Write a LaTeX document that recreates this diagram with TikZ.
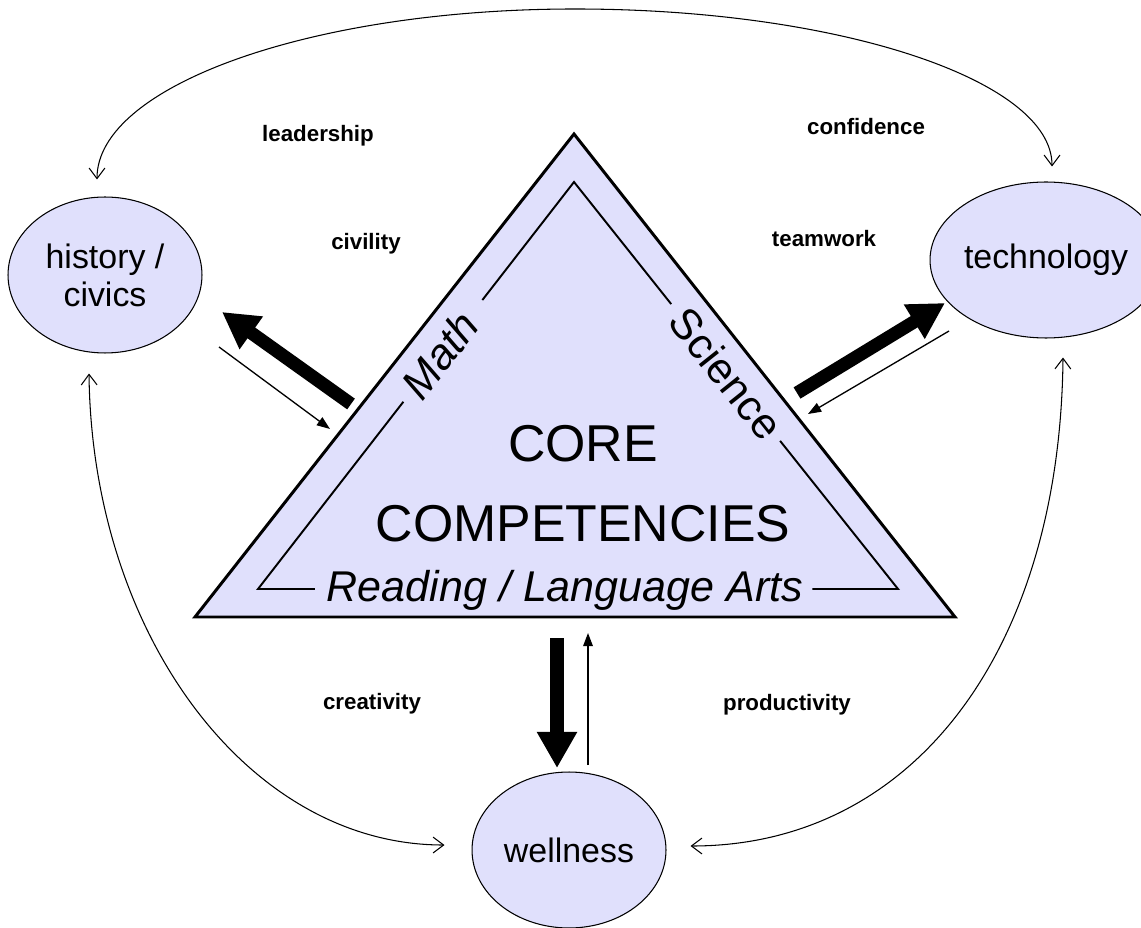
\documentclass[tikz,border=0pt]{standalone}
\usepackage{fontspec}
\setmainfont{Liberation Sans}
\usetikzlibrary{shapes.geometric,arrows.meta,calc}
\definecolor{lav}{RGB}{224,224,252}

\begin{document}
\begin{tikzpicture}[x=0.02cm,y=-0.02cm,line join=miter,
	topic/.style={ellipse, draw, line width=0.6pt, fill=lav, minimum width=3.88cm, minimum height=3.12cm, inner sep=0pt, align=center, font=\fontsize{19.3pt}{21.5pt}\selectfont},
	value/.style={font=\fontsize{12.7pt}{15pt}\selectfont\bfseries},
	subject/.style={inner sep=0pt, font=\fontsize{24.5pt}{28pt}\selectfont},
	push/.style={line width=7.5pt, -{Triangle[width=21.5pt,length=20.5pt]}},
	pull/.style={line width=0.75pt, -{Triangle[width=5.5pt,length=7.5pt]}},
	loopline/.style={line width=0.6pt, {Straight Barb[length=6pt,width=9pt]}-{Straight Barb[length=6pt,width=9pt]}}]
	\fill[white] (0,0) rectangle (1141,928);
	\useasboundingbox (0,0) rectangle (1141,928);

	\coordinate (oT) at (574,134);
	\coordinate (oL) at (195,617);
	\coordinate (oR) at (955,617);
	\coordinate (iT) at (574,182);
	\coordinate (iL) at (258,589);
	\coordinate (iR) at (898,589);
	\draw[line width=1.7pt, fill=lav] (oT) -- (oL) -- (oR) -- cycle;
	\draw[line width=1.1pt] ($(iL)!0.46!(iT)$) -- (iL) -- ($(iL)!0.089!(iR)$);
	\draw[line width=1.1pt] ($(iL)!0.71!(iT)$) -- (iT) -- ($(iT)!0.30!(iR)$);
	\draw[line width=1.1pt] ($(iT)!0.636!(iR)$) -- (iR) -- ($(iL)!0.866!(iR)$);

	\node (math) at ($(iL)!0.575!(iT)$)	[subject, rotate=52]	{\itshape Math};
	\node (sci)  at ($(iT)!0.47!(iR)$)	[subject, rotate=-51.5]	{Science};
	\node (read) at (565,601)	[subject, anchor=base]	{\itshape Reading / Language Arts};
	\node (core) at (583,484)	[inner sep=0pt, font=\fontsize{29.5pt}{45.4pt}\selectfont, align=center]	{CORE\\COMPETENCIES};

	\node (hist) at (105,275)	[topic]	{history /\\civics};
	\node (tech) at (1046,260)	[topic]	{technology};
	\node (well) at (569,850)	[topic]	{wellness};

	\node (lead) at (318,136)	[value]	{leadership};
	\node (conf) at (866,127)	[value]	{confidence};
	\node (civ)  at (366,244)	[value]	{civility};
	\node (team) at (824,239)	[value]	{teamwork};
	\node (crea) at (372,704)	[value]	{creativity};
	\node (prod) at (787,705)	[value]	{productivity};

	\coordinate (histout) at (351,404);
	\coordinate (histtip) at (222,312);
	\coordinate (histin)  at (219,347);
	\coordinate (mathin)  at (330,429);
	\coordinate (techout) at (797,393);
	\coordinate (techtip) at (945,303);
	\coordinate (techin)  at (949,331);
	\coordinate (sciin)   at (808,414);
	\coordinate (wellout) at (557,638);
	\coordinate (welltip) at (557,768);
	\coordinate (wellin)  at (588,765);
	\coordinate (readin)  at (588,633);
	\draw[push] (histout) -- (histtip);
	\draw[pull] (histin) -- (mathin);
	\draw[push] (techout) -- (techtip);
	\draw[pull] (techin) -- (sciin);
	\draw[push] (wellout) -- (welltip);
	\draw[pull] (wellin) -- (readin);

	\coordinate (htop) at ([shift={(-8,-17)}]hist.north);
	\coordinate (ttop) at ([shift={(6,-15)}]tech.north);
	\coordinate (hbot) at ([shift={(-16,20)}]hist.south);
	\coordinate (tbot) at ([shift={(17,19)}]tech.south);
	\coordinate (wlft) at ([shift={(-27,-5)}]well.west);
	\coordinate (wrgt) at ([shift={(24,-4)}]well.east);
	\draw[loopline] (htop) .. controls (97,86) and (311,9) .. (575,9) .. controls (838,9) and (1052,80) .. (ttop);
	\draw[loopline] (hbot) .. controls (92,634) and (248,845) .. (wlft);
	\draw[loopline] (tbot) .. controls (1060,650) and (914,846) .. (wrgt);
\end{tikzpicture}
\end{document}
